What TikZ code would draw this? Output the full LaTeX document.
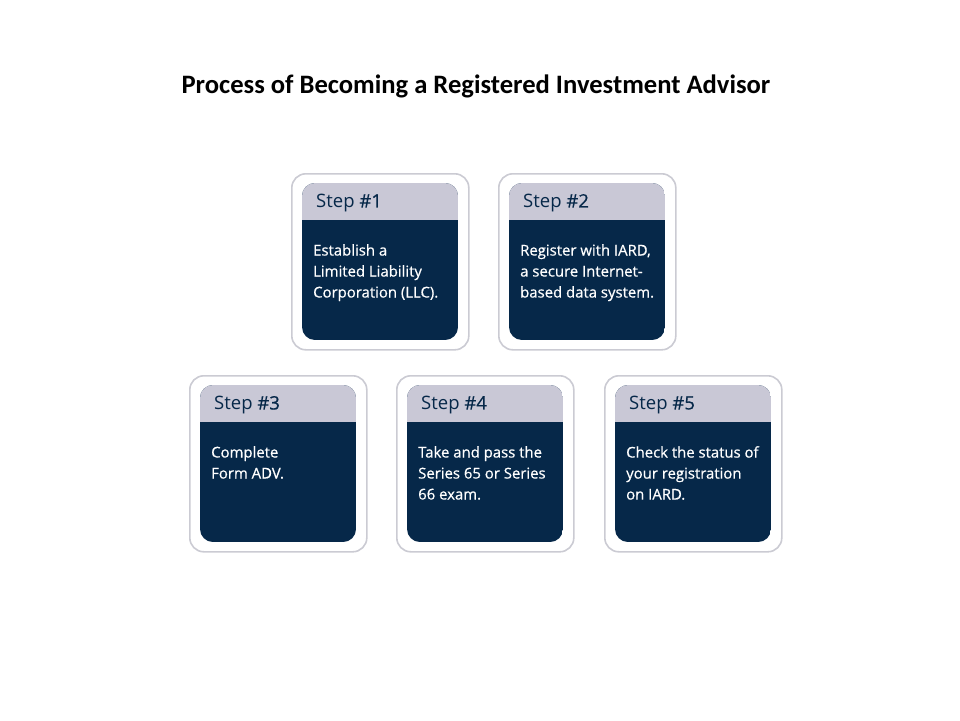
\documentclass[tikz,border=0pt]{standalone}
\usepackage{fontspec}
\setmainfont{Carlito}
\newfontfamily\boxfont{Open Sans}
\newfontfamily\boxfontsemi[FakeBold=0.6]{Open Sans}
\definecolor{navy}{HTML}{062849}
\definecolor{hdrgray}{HTML}{C9C8D6}
\definecolor{rimgray}{HTML}{CBCBD3}
\tikzset{
  outerbox/.style={draw=rimgray, line width=1.6pt, fill=white, rounded corners=14pt},
  hdrtext/.style={anchor=west, inner sep=0pt, text=navy, font=\boxfont\fontsize{18.5}{22}\selectfont},
  bodytext/.style={anchor=north west, inner sep=0pt, text=white, align=left, font=\boxfontsemi\fontsize{14.9}{21}\selectfont},
}
\newcommand{\stepcard}[5]{%
  % #1 name, #2 left x, #3 top y (px), #4 step number, #5 text
  \node[outerbox, minimum width=177pt, minimum height=176pt, anchor=north west] (#1) at (#2-11, #3-10) {};
  \begin{scope}
    \clip[rounded corners=13pt] (#2,#3) rectangle ++(156,157);
    \fill[navy] (#2,#3) rectangle ++(156,157);
    \fill[hdrgray] (#2,#3) rectangle ++(156,37);
  \end{scope}
  \node[hdrtext] (#1h) at (#2+14,#3+20) {Step {\boxfontsemi\##4}};
  \node[bodytext] (#1b) at (#2+11,#3+61) {#5};
}
\begin{document}
\begin{tikzpicture}[x=1pt,y=-1pt]
\useasboundingbox (0,0) rectangle (960,720);
\node[font=\bfseries\fontsize{26.6}{30}\selectfont, text=black] (title) at (476,86) {Process of Becoming a Registered Investment Advisor};
\stepcard{s1}{302}{183}{1}{Establish a\\Limited Liability\\Corporation (LLC).}
\stepcard{s2}{509}{183}{2}{Register with IARD,\\a secure Internet-\\based data system.}
\stepcard{s3}{200}{385}{3}{Complete\\Form ADV.}
\stepcard{s4}{407}{385}{4}{Take and pass the\\Series 65 or Series\\66 exam.}
\stepcard{s5}{615}{385}{5}{Check the status of\\your registration\\on IARD.}
\end{tikzpicture}
\end{document}
